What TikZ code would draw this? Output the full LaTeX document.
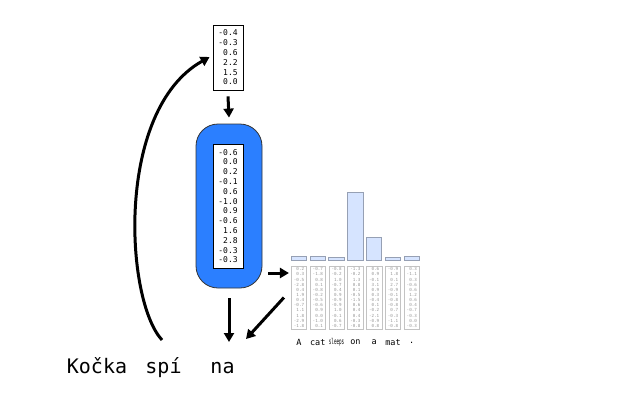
\documentclass[tikz,border=0pt]{standalone}
\usepackage{fontspec}
\setmonofont{DejaVu Sans Mono}
\usetikzlibrary{arrows.meta}
\definecolor{encblue}{RGB}{43,127,255}
\definecolor{barblue}{RGB}{214,228,255}
\definecolor{bargray}{RGB}{150,160,180}
\definecolor{colgray}{RGB}{195,195,195}
\definecolor{numgray}{RGB}{150,150,150}
\begin{document}
\begin{tikzpicture}[x=1pt,y=-1pt,
  vecbox/.style={draw, line width=0.8pt, fill=white, inner sep=0pt, minimum width=30pt,
    align=right, font=\ttfamily\fontsize{8}{9.8}\selectfont},
  colbox/.style={draw=colgray, line width=0.6pt, fill=white, inner sep=0pt, minimum width=15.5pt,
    minimum height=63pt, align=right, text=numgray, font=\ttfamily\fontsize{4.2}{5.15}\selectfont},
  barbox/.style={draw=bargray, line width=0.6pt, fill=barblue},
  wordlbl/.style={inner sep=0pt, font=\ttfamily\fontsize{8.5}{10}\selectfont},
  bigword/.style={inner sep=0pt, anchor=base, font=\ttfamily\fontsize{20}{24}\selectfont},
  arr/.style={line width=3pt, -{Triangle[length=9pt,width=10pt]}}]
\path[use as bounding box] (0,0) rectangle (640,400);

% top vector
\node[vecbox, minimum height=65pt] (top) at (228,57.5) {-0.4\\-0.3\\0.6\\2.2\\1.5\\0.0};

% encoder
\node[draw=black!80, line width=0.8pt, fill=encblue, rounded corners=22pt,
  minimum width=66pt, minimum height=164pt] (enc) at (229,206) {};
\node[vecbox, minimum height=124pt] (inner) at (228,206)
  {-0.6\\0.0\\0.2\\-0.1\\0.6\\-1.0\\0.9\\-0.6\\1.6\\2.8\\-0.3\\-0.3};

% attention bars
\foreach \h [count=\i from 0] in {3.5,4,2.5,68,23,3,4} {
  \draw[barbox] ({291+\i*18.8},260) rectangle ++(15.5,-\h);
}

% source columns
\node[colbox] (c1) at ({299+0*18.8},297.5) {0.2\\0.3\\-0.5\\-2.8\\0.4\\1.9\\0.4\\-0.7\\1.1\\1.8\\-2.9\\-1.8};
\node[colbox] (c2) at ({299+1*18.8},297.5) {-0.7\\-1.8\\0.8\\0.1\\-0.8\\-0.2\\-0.5\\-0.6\\0.9\\0.0\\-1.0\\0.1};
\node[colbox] (c3) at ({299+2*18.8},297.5) {-0.8\\-0.2\\1.0\\-0.7\\0.4\\0.9\\-0.9\\-0.9\\1.0\\-0.1\\0.6\\-0.7};
\node[colbox] (c4) at ({299+3*18.8},297.5) {-1.3\\-0.2\\1.3\\0.8\\0.1\\-0.5\\-1.5\\0.6\\0.4\\0.4\\-0.3\\-0.8};
\node[colbox] (c5) at ({299+4*18.8},297.5) {0.6\\0.9\\-0.1\\3.1\\0.9\\0.3\\-0.4\\0.1\\-0.2\\-2.1\\-0.9\\0.8};
\node[colbox] (c6) at ({299+5*18.8},297.5) {-0.9\\1.8\\0.1\\2.7\\-0.9\\-0.1\\-0.8\\-0.8\\0.7\\-0.3\\-1.1\\-0.8};
\node[colbox] (c7) at ({299+6*18.8},297.5) {0.3\\-1.1\\0.3\\-0.6\\0.6\\1.2\\0.6\\0.4\\-0.7\\-0.3\\0.0\\-0.3};

% word labels
\node[wordlbl] (w1) at ({299+0*18.8},342.5) {A};
\node[wordlbl] (w2) at ({299+1*18.8},342.5) {cat};
\node[wordlbl] (w3) at ({299+2*18.8},342.5) {\scalebox{0.5}[0.95]{sleeps}};
\node[wordlbl] (w4) at ({299+3*18.8},342.5) {on};
\node[wordlbl] (w5) at ({299+4*18.8},342.5) {a};
\node[wordlbl] (w6) at ({299+5*18.8},342.5) {mat};
\node[wordlbl] (w7) at ({299+6*18.8},342.5) {.};

% target words
\node[bigword] (kocka) at (97,373) {Kočka};
\node[bigword] (spi) at (163.5,373) {spí};
\node[bigword] (na) at (222.5,373) {na};

\coordinate (naIn) at (229,342);
\coordinate (naIn2) at (246,339);
\coordinate (curveStart) at (162,340);

% connectors
\draw[arr] ([yshift=-6pt]top.south) -- ([yshift=6pt]enc.north);
\draw[arr] ([yshift=-10pt]enc.south) -- (naIn);
\draw[arr] ([xshift=6pt,yshift=-67pt]enc.east) -- ([xshift=-2pt,yshift=24.5pt]c1.west);
\draw[arr] ([xshift=-7pt]c1.west) -- (naIn2);
\draw[arr] (curveStart) .. controls (125,300) and (115,110) .. ([xshift=-3pt,yshift=0.5pt]top.west);
\end{tikzpicture}
\end{document}
